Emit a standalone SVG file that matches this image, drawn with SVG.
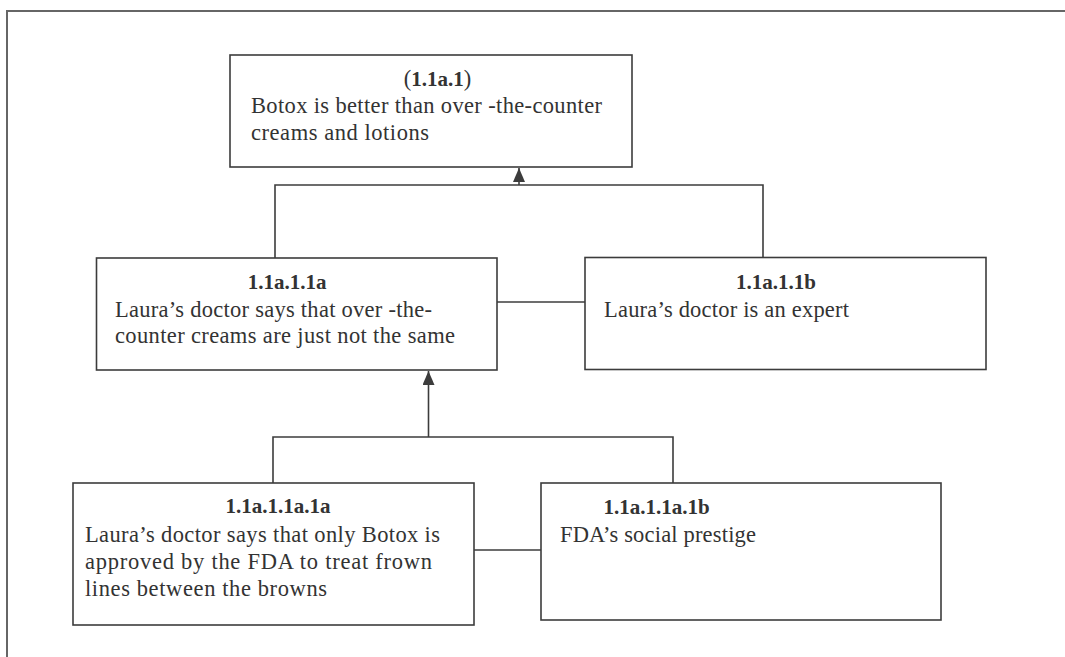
<svg xmlns="http://www.w3.org/2000/svg" width="1065" height="657" viewBox="0 0 1065 657">
<defs>
<style>
.box{fill:#fff;stroke:#3c3c3c;stroke-width:1.6}
.ln{fill:none;stroke:#3c3c3c;stroke-width:1.6}
.t{font-family:"Liberation Serif","Times New Roman",serif;font-size:22.5px;fill:#333}
.b{font-weight:bold;font-size:21px}
.frame{fill:none;stroke:#666;stroke-width:2}
</style>
<marker id="ah" viewBox="0 0 14 12" refX="14" refY="6" markerWidth="14" markerHeight="12" markerUnits="userSpaceOnUse" orient="auto">
<path d="M0,0 L14,6 L0,12 z" fill="#3c3c3c"/>
</marker>
</defs>
<rect width="1065" height="657" fill="#fff"/>
<path class="frame" d="M7,657 V11 H1065"/>
<g id="connectors">
<path class="ln" d="M519,185 V168" marker-end="url(#ah)"/>
<path class="ln" d="M275,258 V185 H763 V258"/>
<path class="ln" d="M497,302 H585"/>
<path class="ln" d="M428.5,437 V371" marker-end="url(#ah)"/>
<path class="ln" d="M273,483 V437 H673 V483"/>
<path class="ln" d="M474,550 H541"/>
</g>
<g id="n1">
<rect class="box" x="230" y="55" width="402" height="112"/>
<text class="t" x="437.5" y="86" text-anchor="middle" font-size="21">(<tspan class="b">1.1a.1</tspan>)</text>
<text class="t" x="251" y="113" textLength="351">Botox is better than over -the-counter</text>
<text class="t" x="251" y="140" textLength="178">creams and lotions</text>
</g>
<g id="n2">
<rect class="box" x="96.5" y="258" width="400.5" height="112"/>
<text class="t b" x="287" y="289" text-anchor="middle">1.1a.1.1a</text>
<text class="t" x="115" y="316.5" textLength="317">Laura’s doctor says that over -the-</text>
<text class="t" x="115" y="343" textLength="340">counter creams are just not the same</text>
</g>
<g id="n3">
<rect class="box" x="585" y="257.5" width="401" height="112"/>
<text class="t b" x="776" y="289" text-anchor="middle">1.1a.1.1b</text>
<text class="t" x="604" y="316.5" textLength="245">Laura’s doctor is an expert</text>
</g>
<g id="n4">
<rect class="box" x="73" y="483" width="401" height="142"/>
<text class="t b" x="278" y="513" text-anchor="middle">1.1a.1.1a.1a</text>
<text class="t" x="85" y="541.5" textLength="355">Laura’s doctor says that only Botox is</text>
<text class="t" x="85" y="568.5" textLength="347">approved by the FDA to treat frown</text>
<text class="t" x="85" y="595.5" textLength="242">lines between the browns</text>
</g>
<g id="n5">
<rect class="box" x="541" y="483" width="400" height="137"/>
<text class="t b" x="656.5" y="514" text-anchor="middle">1.1a.1.1a.1b</text>
<text class="t" x="560" y="541.5" textLength="196">FDA’s social prestige</text>
</g>
</svg>
